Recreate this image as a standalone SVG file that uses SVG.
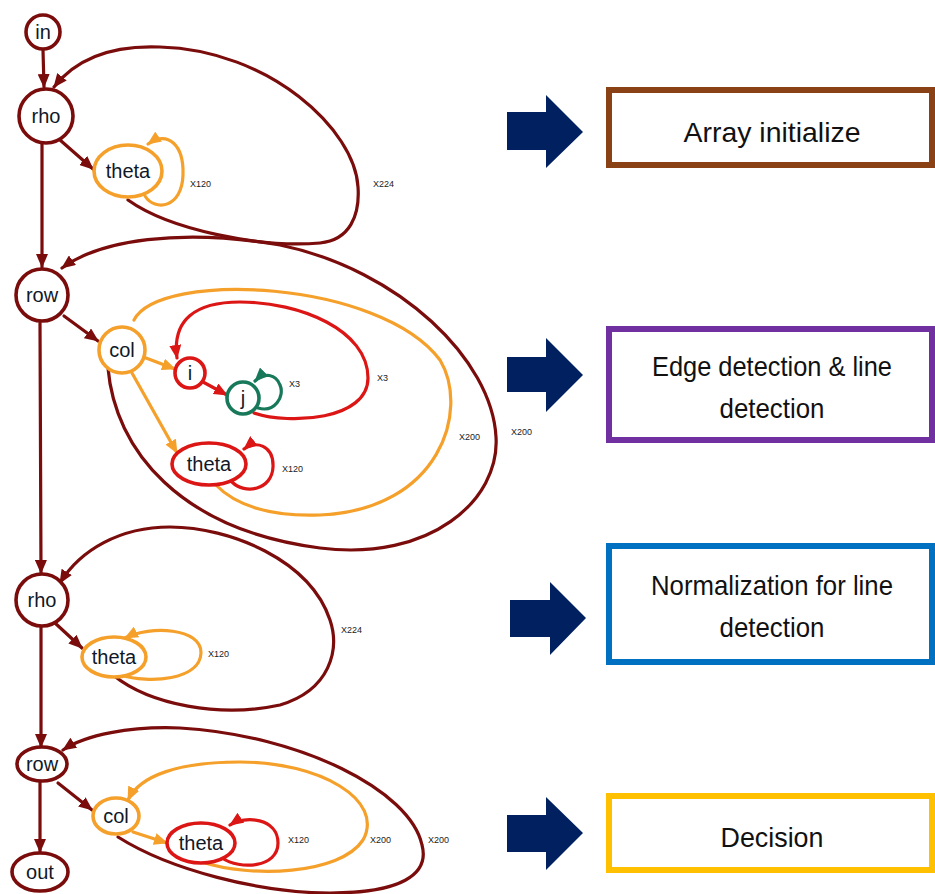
<svg xmlns="http://www.w3.org/2000/svg" width="935" height="894" viewBox="0 0 935 894">
<style>
.e{fill:none;stroke-width:3.2;stroke-linecap:round}
.m{stroke:#7a0c0c}.o{stroke:#f5a02a}.r{stroke:#dc1515}.g{stroke:#17795a}
.n{fill:#fff;stroke-width:3.6}
.nt{font-family:"Liberation Sans",Arial,sans-serif;font-size:20px;fill:#101828;text-anchor:middle}
.lb{font-family:"Liberation Sans",Arial,sans-serif;font-size:9px;fill:#222}
.bx{fill:#fff;stroke-width:6}
.bt{font-family:"Liberation Sans",Arial,sans-serif;font-size:28px;fill:#111;text-anchor:middle}
.ar{fill:#002060}
</style>
<defs>
<marker id="am" viewBox="0 0 14 12" refX="13" refY="6" markerWidth="14" markerHeight="12" markerUnits="userSpaceOnUse" orient="auto"><path d="M0,0 L14,6 L0,12 z" fill="#7a0c0c"/></marker>
<marker id="ao" viewBox="0 0 14 12" refX="13" refY="6" markerWidth="14" markerHeight="12" markerUnits="userSpaceOnUse" orient="auto"><path d="M0,0 L14,6 L0,12 z" fill="#f5a02a"/></marker>
<marker id="ar" viewBox="0 0 14 12" refX="13" refY="6" markerWidth="14" markerHeight="12" markerUnits="userSpaceOnUse" orient="auto"><path d="M0,0 L14,6 L0,12 z" fill="#dc1515"/></marker>
<marker id="ag" viewBox="0 0 14 12" refX="13" refY="6" markerWidth="14" markerHeight="12" markerUnits="userSpaceOnUse" orient="auto"><path d="M0,0 L14,6 L0,12 z" fill="#17795a"/></marker>
</defs>
<g id="connectors">
<path class="e m" d="M43,50 L44,87" marker-end="url(#am)"/>
<path class="e m" d="M128,200 C170,230 260,248 320,243 C350,240 360,215 358,187 C355,130 270,50 160,47 C110,45 75,60 54,87" marker-end="url(#am)"/>
<path class="e m" d="M60,140 L93,169" marker-end="url(#am)"/>
<path class="e o" d="M145,196 C155,212 182,208 183,175 C184,145 168,130 148,144" marker-end="url(#ao)"/>
<path class="e m" d="M42,143 L42,267" marker-end="url(#am)"/>
<path class="e m" d="M108,368 C115,450 180,530 320,548 C430,562 500,500 496,437 C492,360 400,270 280,245 C180,228 100,240 62,268" marker-end="url(#am)"/>
<path class="e m" d="M64,316 L98,341" marker-end="url(#am)"/>
<path class="e o" d="M134,320 C160,270 380,280 440,360 C470,410 440,510 320,515 C270,517 235,505 216,485"/>
<path class="e o" d="M146,358 L175,369" marker-end="url(#ao)"/>
<path class="e o" d="M132,373 L177,453" marker-end="url(#ao)"/>
<path class="e r" d="M203,382 L227,395" marker-end="url(#ar)"/>
<path class="e g" d="M258,408 C275,413 285,396 280,385 C276,374 264,372 255,381" marker-end="url(#ag)"/>
<path class="e r" d="M254,413 C290,425 368,420 368,378 C368,330 300,302 240,302 C195,302 172,320 177,358" marker-end="url(#ar)"/>
<path class="e r" d="M232,482 C245,495 272,490 273,467 C274,445 255,440 244,449" marker-end="url(#ar)"/>
<path class="e m" d="M40,323 L41,573" marker-end="url(#am)"/>
<path class="e m" d="M113,675 C150,705 220,718 280,705 C330,690 340,650 330,620 C310,560 230,527 170,527 C120,527 80,550 60,583" marker-end="url(#am)"/>
<path class="e m" d="M55,623 L82,648" marker-end="url(#am)"/>
<path class="e o" d="M120,675 C150,684 200,680 201,653 C202,628 150,625 125,638" marker-end="url(#ao)"/>
<path class="e m" d="M41,627 L41,747" marker-end="url(#am)"/>
<path class="e m" d="M118,837 C170,870 260,893 330,893 C400,893 430,875 422,845 C410,790 300,735 180,728 C130,726 85,735 63,750" marker-end="url(#am)"/>
<path class="e m" d="M58,783 L92,810" marker-end="url(#am)"/>
<path class="e m" d="M40,781 L40,852" marker-end="url(#am)"/>
<path class="e o" d="M202,862 C250,878 340,875 363,840 C385,800 320,762 240,762 C180,762 140,775 128,800" marker-end="url(#ao)"/>
<path class="e o" d="M133,832 L167,843" marker-end="url(#ao)"/>
<path class="e r" d="M222,858 C240,870 278,868 278,843 C278,818 245,815 230,825" marker-end="url(#ar)"/>
</g>
<g id="labels">
<text class="lb" x="190" y="187">X120</text>
<text class="lb" x="373" y="187">X224</text>
<text class="lb" x="289" y="387">X3</text>
<text class="lb" x="377" y="381">X3</text>
<text class="lb" x="459" y="440">X200</text>
<text class="lb" x="511" y="435">X200</text>
<text class="lb" x="282" y="472">X120</text>
<text class="lb" x="341" y="633">X224</text>
<text class="lb" x="208" y="657">X120</text>
<text class="lb" x="288" y="843">X120</text>
<text class="lb" x="370" y="843">X200</text>
<text class="lb" x="428" y="843">X200</text>
</g>
<g id="n-in"><circle class="n m" cx="43" cy="32" r="17"/><text class="nt" x="43" y="39">in</text></g>
<g id="n-rho1"><circle class="n m" cx="46" cy="116" r="27"/><text class="nt" x="46" y="123">rho</text></g>
<g id="n-theta1"><ellipse class="n o" cx="128" cy="171" rx="34" ry="26"/><text class="nt" x="128" y="178">theta</text></g>
<g id="n-row1"><circle class="n m" cx="42" cy="295" r="26"/><text class="nt" x="42" y="302">row</text></g>
<g id="n-col1"><circle class="n o" cx="122" cy="350" r="23"/><text class="nt" x="122" y="357">col</text></g>
<g id="n-i"><circle class="n r" cx="190" cy="373" r="15"/><text class="nt" x="190" y="380">i</text></g>
<g id="n-j"><circle class="n g" cx="243" cy="398" r="16"/><text class="nt" x="243" y="405">j</text></g>
<g id="n-theta2"><ellipse class="n r" cx="209" cy="464" rx="37" ry="21"/><text class="nt" x="209" y="471">theta</text></g>
<g id="n-rho2"><circle class="n m" cx="42" cy="600" r="26"/><text class="nt" x="42" y="607">rho</text></g>
<g id="n-theta3"><ellipse class="n o" cx="114" cy="657" rx="32" ry="20"/><text class="nt" x="114" y="664">theta</text></g>
<g id="n-row2"><ellipse class="n m" cx="42" cy="764" rx="25" ry="17"/><text class="nt" x="42" y="771">row</text></g>
<g id="n-col2"><ellipse class="n o" cx="116" cy="816" rx="23" ry="18"/><text class="nt" x="116" y="823">col</text></g>
<g id="n-theta4"><ellipse class="n r" cx="201" cy="843" rx="34" ry="20"/><text class="nt" x="201" y="850">theta</text></g>
<g id="n-out"><ellipse class="n m" cx="40" cy="872" rx="28" ry="19"/><text class="nt" x="40" y="879">out</text></g>
<g id="arrow1"><path class="ar" d="M507,112 L546,112 L546,95 L583,132 L546,168 L546,150 L507,150 z"/></g>
<g id="arrow2"><path class="ar" d="M507,357 L546,357 L546,338 L583,375 L546,412 L546,392 L507,392 z"/></g>
<g id="arrow3"><path class="ar" d="M510,600 L550,600 L550,582 L586,618 L550,655 L550,637 L510,637 z"/></g>
<g id="arrow4"><path class="ar" d="M507,815 L546,815 L546,797 L583,833 L546,870 L546,852 L507,852 z"/></g>
<g id="box1"><rect class="bx" x="609" y="90" width="323" height="75" stroke="#8a4116"/><text class="bt" x="772" y="142" textLength="177" lengthAdjust="spacingAndGlyphs">Array initialize</text></g>
<g id="box2"><rect class="bx" x="609" y="329" width="323" height="111" stroke="#7030a0"/><text class="bt" x="772" y="376" textLength="240" lengthAdjust="spacingAndGlyphs">Edge detection &amp; line</text><text class="bt" x="772" y="418" textLength="105" lengthAdjust="spacingAndGlyphs">detection</text></g>
<g id="box3"><rect class="bx" x="609" y="546" width="323" height="116" stroke="#0070c0"/><text class="bt" x="772" y="595" textLength="242" lengthAdjust="spacingAndGlyphs">Normalization for line</text><text class="bt" x="772" y="637" textLength="105" lengthAdjust="spacingAndGlyphs">detection</text></g>
<g id="box4"><rect class="bx" x="609" y="796" width="323" height="74" stroke="#ffc000"/><text class="bt" x="772" y="847" textLength="103" lengthAdjust="spacingAndGlyphs">Decision</text></g>
</svg>
